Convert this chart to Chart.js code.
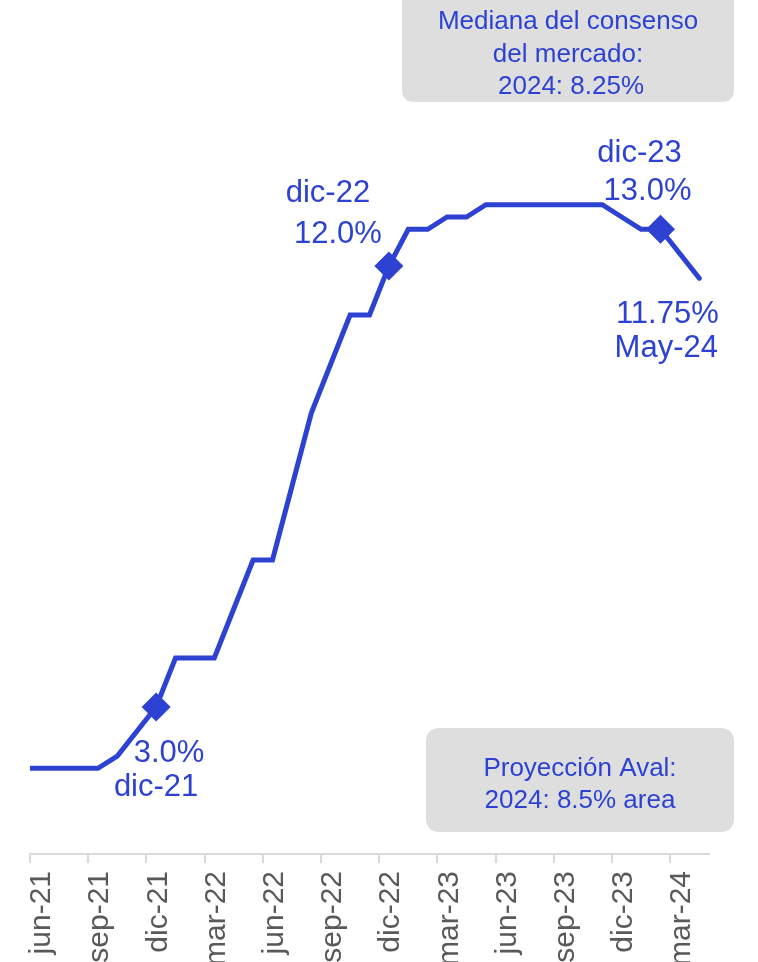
<!DOCTYPE html>
<html>
<head>
<meta charset="utf-8">
<script src="https://cdn.jsdelivr.net/npm/chart.js@4.4.1/dist/chart.umd.min.js"></script>
<style>
html,body{margin:0;padding:0;background:#fff;overflow:hidden}
#wrap{position:relative;width:758px;height:962px}
</style>
</head>
<body>
<div id="wrap"><canvas id="myChart" width="758" height="962"></canvas></div>
<script>
// tasa de politica monetaria, dato mensual (punto a mitad de mes)
const meses = ['may-21','jun-21','jul-21','ago-21','sep-21','oct-21','nov-21','dic-21',
	'ene-22','feb-22','mar-22','abr-22','may-22','jun-22','jul-22','ago-22','sep-22','oct-22','nov-22','dic-22',
	'ene-23','feb-23','mar-23','abr-23','may-23','jun-23','jul-23','ago-23','sep-23','oct-23','nov-23','dic-23',
	'ene-24','feb-24','mar-24','abr-24']
const tasa = [1.75,1.75,1.75,1.75,1.75,2.0,2.5,3.0,
	4.0,4.0,4.0,5.0,6.0,6.0,7.5,9.0,10.0,11.0,11.0,12.0,
	12.75,12.75,13.0,13.0,13.25,13.25,13.25,13.25,13.25,13.25,13.25,13.0,
	12.75,12.75,12.25,11.75]
const ticksMeses = ['jun-21','sep-21','dic-21','mar-22','jun-22','sep-22','dic-22','mar-23','jun-23','sep-23','dic-23','mar-24']

// puntos marcados y sus textos
const marcas = ['dic-21','dic-22','feb-24']
const marcasTexto = [['3.0%','dic-21'],['dic-22','12.0%'],['dic-23','13.0%']]
const finalTexto = ['11.75%','May-24']
const cajaConsenso = ['Mediana del consenso','del mercado:','2024: 8.25%']
const cajaAval = ['Proyección Aval:','2024: 8.5% area']

// desplazamientos (px) de cada texto respecto a su punto
const offsetsMarcas = [[[13,55],[0,89]],[[-61,-64],[-51,-23]],[[-21,-67],[-13,-29]]]
const offsetsFinal = [[-32,45],[-33,79]]

const azul = '#2d42d2'
const gris = '#dedede'

function xMes(m){ return meses.indexOf(m) - 0.5 }

serie = meses.map((m,i) => ({x: i - 0.5, y: tasa[i]}))
puntos = marcas.map(m => ({x: xMes(m), y: tasa[meses.indexOf(m)]}))

function caja(ctx, x, y, w, h, r){
	ctx.beginPath()
	ctx.moveTo(x+r, y)
	ctx.lineTo(x+w-r, y)
	ctx.quadraticCurveTo(x+w, y, x+w, y+r)
	ctx.lineTo(x+w, y+h-r)
	ctx.quadraticCurveTo(x+w, y+h, x+w-r, y+h)
	ctx.lineTo(x+r, y+h)
	ctx.quadraticCurveTo(x, y+h, x, y+h-r)
	ctx.lineTo(x, y+r)
	ctx.quadraticCurveTo(x, y, x+r, y)
	ctx.closePath()
	ctx.fillStyle = gris
	ctx.fill()
}

const notas = {
	id: 'notas',
	afterDraw(chart){
		ctx = chart.ctx
		xs = chart.scales.x
		ys = chart.scales.y
		ctx.save()
		caja(ctx, 402, -14, 332, 116, 13)
		caja(ctx, 426, 728, 308, 104, 14)

		ctx.fillStyle = azul
		ctx.textAlign = 'center'
		ctx.textBaseline = 'alphabetic'
		ctx.font = '26px "Liberation Sans", Arial, sans-serif'
		for(i=0;i<cajaConsenso.length;i++){
			ctx.fillText(cajaConsenso[i], i==2 ? 571 : 568, 29 + i*32.5)
		}
		for(i=0;i<cajaAval.length;i++){
			ctx.fillText(cajaAval[i], 580, 776 + i*32)
		}

		ctx.font = '31px "Liberation Sans", Arial, sans-serif'
		for(j=0;j<puntos.length;j++){
			px = xs.getPixelForValue(puntos[j].x)
			py = ys.getPixelForValue(puntos[j].y)
			for(i=0;i<2;i++){
				ctx.fillText(marcasTexto[j][i], px + offsetsMarcas[j][i][0], py + offsetsMarcas[j][i][1])
			}
		}
		ultimo = serie[serie.length-1]
		px = xs.getPixelForValue(ultimo.x)
		py = ys.getPixelForValue(ultimo.y)
		for(i=0;i<2;i++){
			ctx.fillText(finalTexto[i], px + offsetsFinal[i][0], py + offsetsFinal[i][1])
		}
		ctx.restore()
	}
}

canvas = document.getElementById('myChart')
const myChart = new Chart(canvas, {
	type: 'line',
	data: {
		datasets: [{
			label: 'tasa',
			data: serie,
			borderColor: azul,
			borderWidth: 5,
			borderCapStyle: 'round',
			pointRadius: 0,
			tension: 0
		},{
			label: 'marcas',
			data: puntos,
			showLine: false,
			pointStyle: 'rectRot',
			pointRadius: 14.5,
			pointBackgroundColor: azul,
			pointBorderWidth: 0
		}]
	},
	options: {
		responsive: false,
		animation: false,
		devicePixelRatio: 1,
		layout: { padding: { top: 21, left: 30, right: 49, bottom: 0 } },
		scales: {
			x: {
				type: 'linear',
				min: 0,
				max: 35,
				afterBuildTicks: s => { s.ticks = ticksMeses.map(t => ({value: meses.indexOf(t) - 1})) },
				afterFit: s => { s.height = 108 },
				grid: { drawOnChartArea: false, drawTicks: true, tickLength: 9, color: '#d9d9d9', lineWidth: 2 },
				border: { display: true, color: '#d9d9d9', width: 2 },
				ticks: {
					autoSkip: false,
					minRotation: 90,
					maxRotation: 90,
					padding: 8,
					labelOffset: 12,
					color: '#595959',
					font: { family: 'Liberation Sans', size: 30 },
					callback: v => meses[v + 1]
				}
			},
			y: { display: false, min: 0, max: 17 }
		},
		plugins: {
			legend: { display: false },
			tooltip: { enabled: false }
		}
	},
	plugins: [notas]
})
</script>
</body>
</html>
